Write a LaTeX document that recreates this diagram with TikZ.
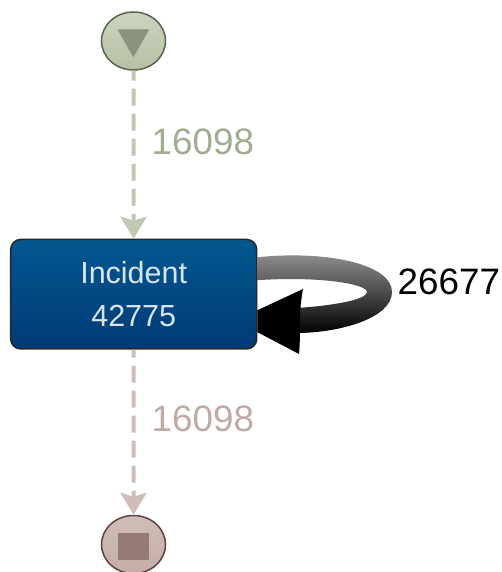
\documentclass[tikz,border=0pt]{standalone}
\usepackage{fontspec}
\setmainfont{Liberation Sans}
\usetikzlibrary{shapes.geometric, calc, arrows.meta}

\definecolor{startgreen}{HTML}{B5C1A5}
\definecolor{startdark}{HTML}{5A6350}
\definecolor{startmark}{HTML}{89927A}
\definecolor{startlabel}{HTML}{A0AD90}
\definecolor{endrose}{HTML}{C4ADA7}
\definecolor{enddark}{HTML}{5E4040}
\definecolor{endmark}{HTML}{967A78}
\definecolor{endlabel}{HTML}{BFAAA5}
\definecolor{boxtop}{HTML}{02588F}
\definecolor{boxbottom}{HTML}{003A78}
\definecolor{boxtext}{HTML}{D8E5EF}

\tikzset{
    terminal/.style={ellipse, draw, line width=1.5pt, inner sep=0pt, minimum width=64pt, minimum height=58pt},
    activity/.style={draw=black!85, line width=1.5pt, rounded corners=10pt, top color=boxtop, bottom color=boxbottom,
        minimum width=246pt, minimum height=109.5pt, align=center, text=boxtext,
        font=\fontsize{30.5}{42.7}\selectfont},
    flow/.style={line width=4pt, -{Stealth[length=22pt, width=26pt, inset=4pt]}},
    count/.style={anchor=base west, inner sep=0pt, font=\fontsize{36.8}{36.8}\selectfont}
}

\begin{document}
\begin{tikzpicture}[x=1pt, y=-1pt]

    \useasboundingbox (0,0) rectangle (502,572);

    % Draw the start and end markers
    \node[terminal, draw=startdark, top color=startgreen!70!white, bottom color=startgreen] (start) at (133.5,41) {};
    \node[terminal, draw=enddark, top color=endrose!80!white, bottom color=endrose] (end) at (133.5,544.5) {};
    \fill[startmark] (117.3,29.3) -- (149.3,29.3) -- (133.4,57.3) -- cycle;
    \fill[endmark] (118.3,533) rectangle (149,560);

    % Draw the activity box
    \node[activity] (incident) at (133.7,294.2) {Incident\\42775};

    % Draw the dashed flows
    \draw[flow, startgreen!85!white, dash pattern=on 17pt off 8pt, dash phase=7pt] (start) -- (incident);
    \draw[flow, endrose!80!white, dash pattern=on 17pt off 8pt, dash phase=9pt] (incident) -- (end);

    % Draw the loop on the box
    \shade[top color=black!42, bottom color=black, middle color=black!70]
        ($(incident.east)+(0,-37)$) .. controls (330,250) and (392,265) .. (392,292)
        .. controls (392,318) and (340,333) .. (296,333) -- (296,308)
        .. controls (330,306) and (367,300) .. (367,292)
        .. controls (367,284) and (320,276) .. ($(incident.east)+(0,-14)$) -- cycle;
    \fill[black] ($(incident.east)+(0,16)$) -- (303,289) .. controls (301,300) and (300,310) .. (300,320)
        .. controls (300,332) and (300,344) .. (299,354) -- ($(incident.east)+(0,38)$) -- cycle;

    % Label the flows
    \node[count, text=startlabel] (startcount) at (151.5,155) {16098};
    \node[count, text=endlabel] (endcount) at (151.5,431.7) {16098};
    \node[count, text=black] (loopcount) at (397.5,294) {26677};

\end{tikzpicture}
\end{document}
